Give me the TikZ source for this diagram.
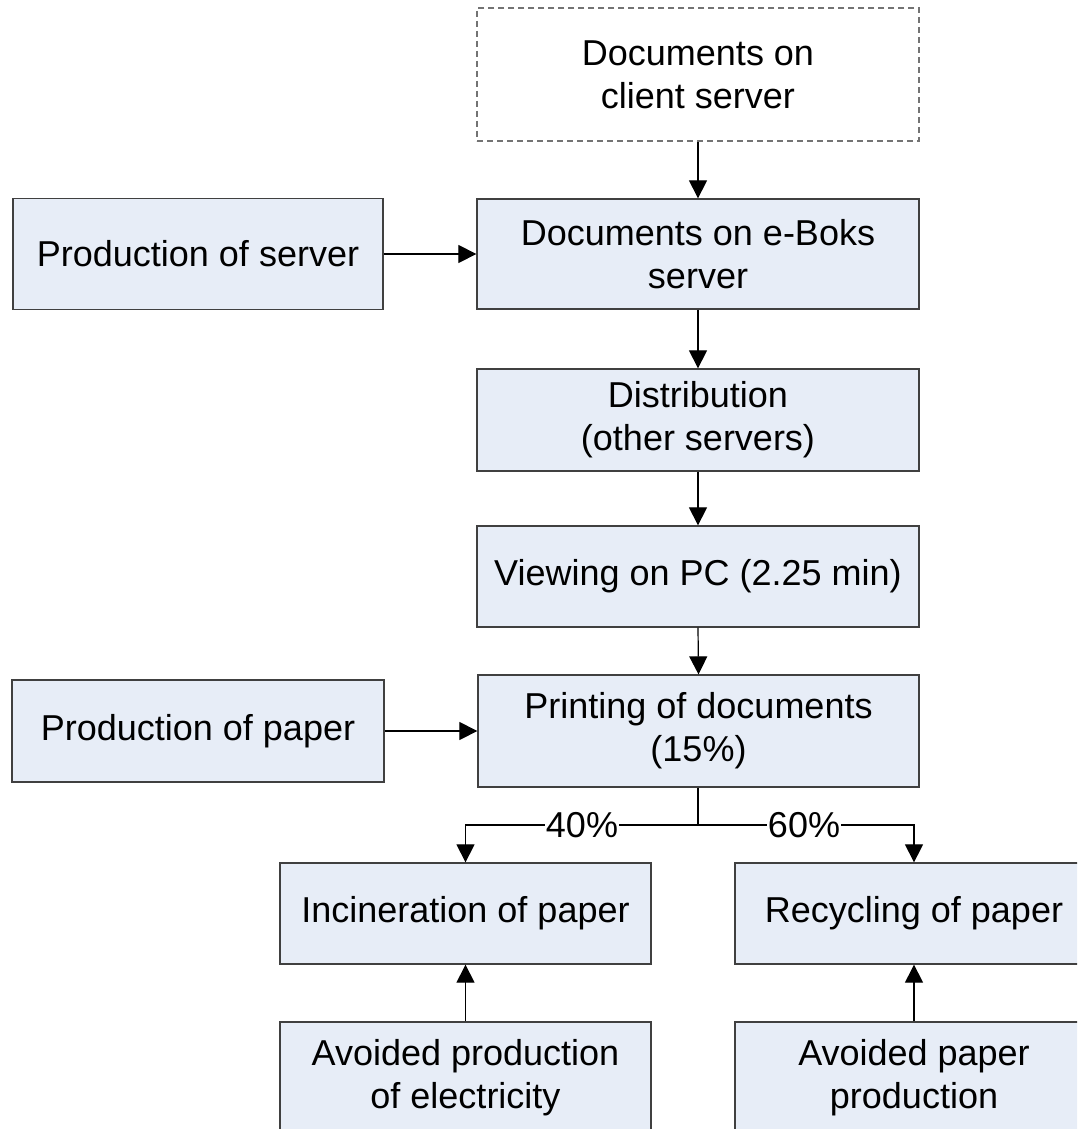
\documentclass[tikz,border=0pt]{standalone}
\usepackage{fontspec}
\setmainfont{Liberation Sans}
\usetikzlibrary{arrows.meta}
\definecolor{boxfill}{HTML}{E7EDF7}
\definecolor{boxline}{HTML}{404040}
\tikzset{
  box/.style={draw=boxline, line width=1.3pt, fill=boxfill, align=center, inner sep=0pt,
    font=\fontsize{36}{43}\selectfont},
  dbox/.style={box, fill=white, draw=gray!90!black, dash pattern=on 6pt off 4pt},
  arr/.style={draw=black, line width=1.2pt, -{Triangle[length=18pt,width=18pt]}},
  lbl/.style={fill=white, inner sep=1pt, font=\fontsize{36}{43}\selectfont}
}
\begin{document}
\begin{tikzpicture}[x=1pt,y=-1pt]
\useasboundingbox (0,0) rectangle (1077,1129);
\clip (0,0) rectangle (1077,1129);
\node[dbox, minimum width=442pt, minimum height=133pt] (client) at (698,74.5) {Documents on\\client server};
\node[box, minimum width=442pt, minimum height=110pt] (eboks) at (698,254) {Documents on e-Boks\\server};
\node[box, minimum width=370pt, minimum height=111pt] (prodserver) at (198,254) {Production of server};
\node[box, minimum width=442pt, minimum height=102pt] (distrib) at (698,420) {Distribution\\(other servers)};
\node[box, minimum width=442pt, minimum height=101pt] (viewing) at (698,576.5) {Viewing on PC (2.25 min)};
\node[box, minimum width=372pt, minimum height=102pt] (prodpaper) at (198,731) {Production of paper};
\node[box, minimum width=441pt, minimum height=112pt] (printing) at (698.5,731) {Printing of documents\\(15\%)};
\node[box, minimum width=371pt, minimum height=101pt] (incin) at (465.5,913.5) {Incineration of paper};
\node[box, minimum width=358pt, minimum height=101pt] (recyc) at (914,913.5) {Recycling of paper};
\node[box, minimum width=371pt, minimum height=111pt] (avoidel) at (465.5,1077.5) {Avoided production\\of electricity};
\node[box, minimum width=358pt, minimum height=111pt] (avoidpap) at (914,1077.5) {Avoided paper\\production};

\draw[arr] (client.south) -- (eboks.north);
\draw[arr] (prodserver.east) -- (eboks.west |- prodserver.east);
\draw[arr] (eboks.south) -- (distrib.north);
\draw[arr] (distrib.south) -- (viewing.north);
\draw[arr] (viewing.south) -- (printing.north);
\draw[arr] (prodpaper.east) -- (printing.west |- prodpaper.east);
\coordinate (split) at (698,825);
\draw[line width=1.2pt] (printing.south -| split) -- (split);
\draw[arr] (split) -| (incin.north);
\draw[arr] (split) -| (recyc.north);
\node[lbl] (p40) at (582,825) {40\%};
\node[lbl] (p60) at (804,825) {60\%};
\draw[arr] (avoidel.north) -- (incin.south);
\draw[arr] (avoidpap.north) -- (recyc.south);
\end{tikzpicture}
\end{document}
